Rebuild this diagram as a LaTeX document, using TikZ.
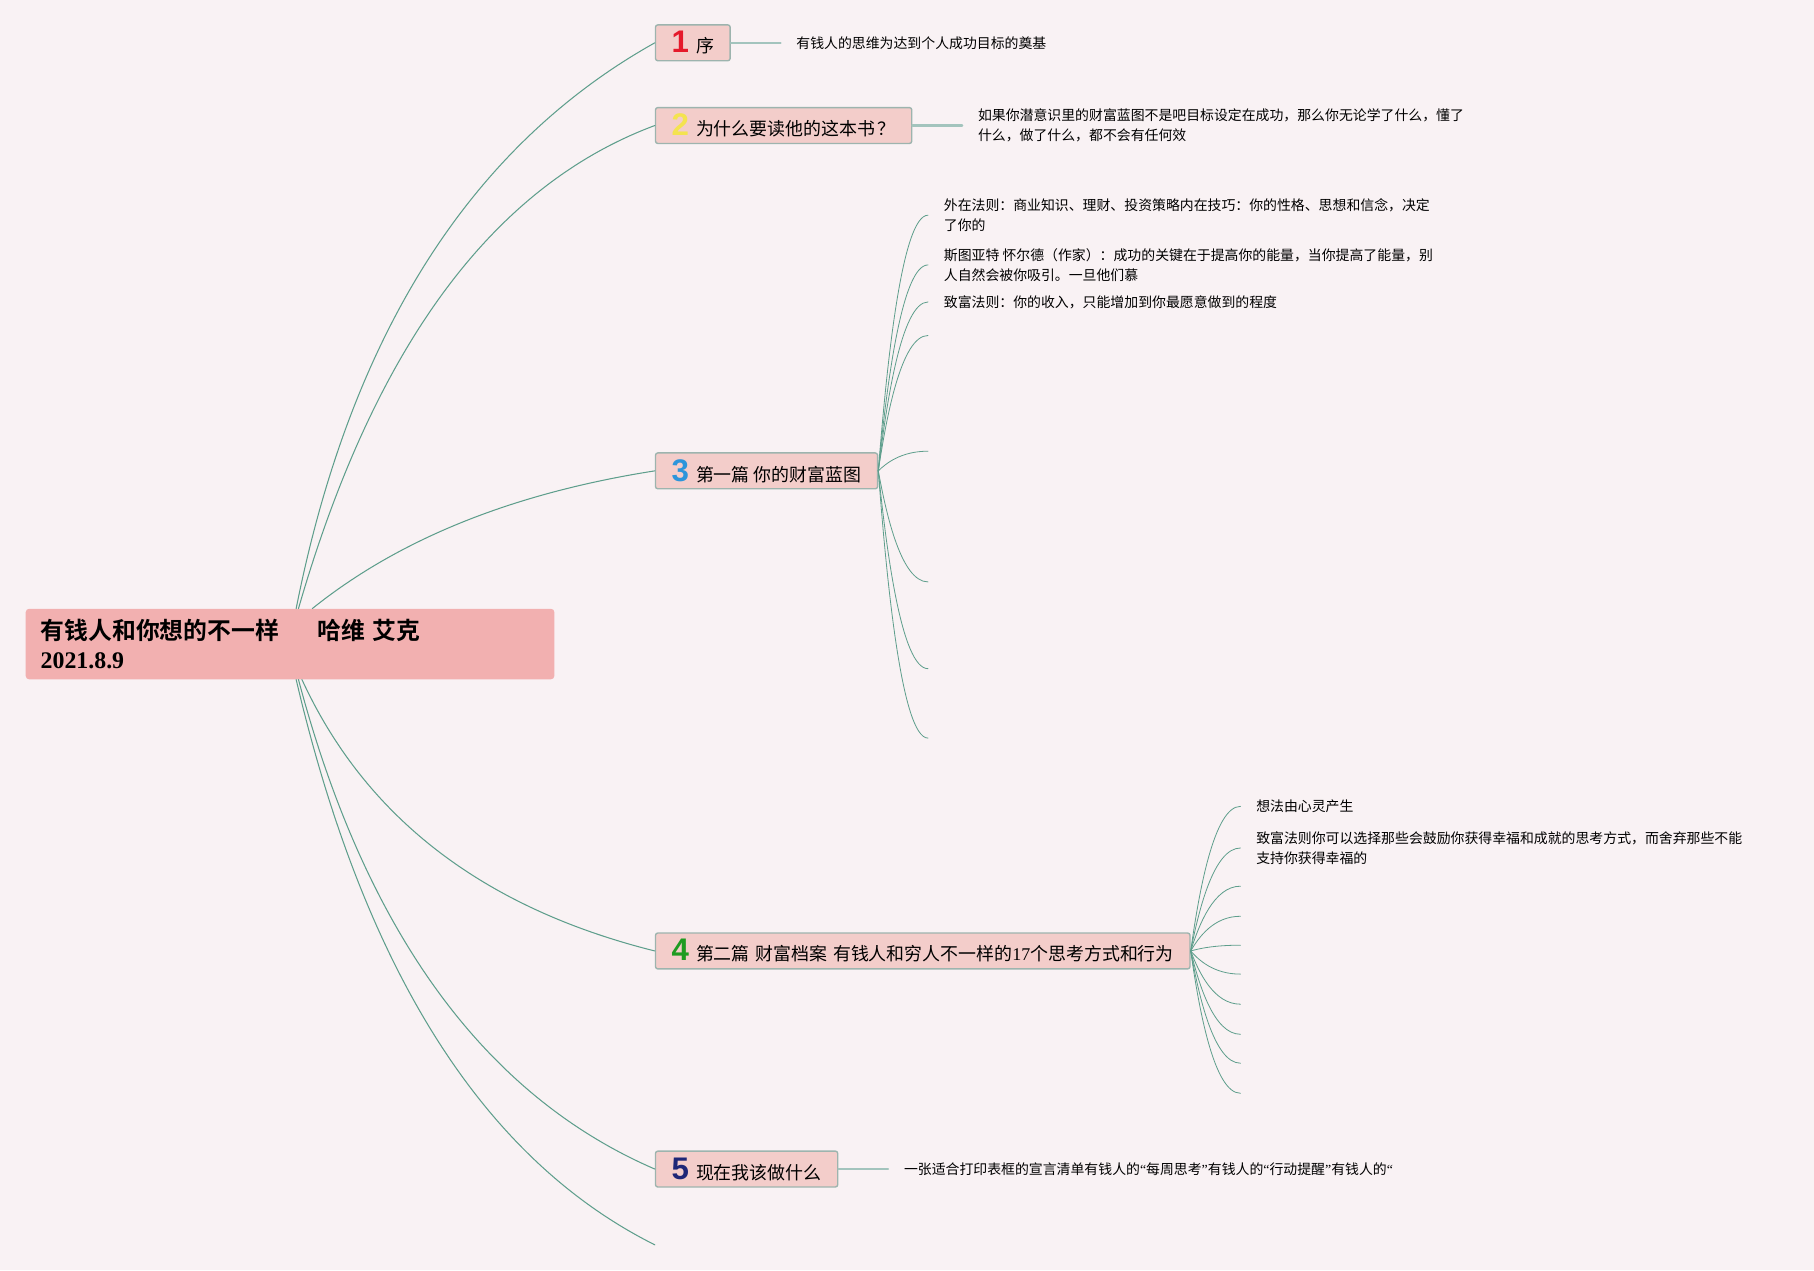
\documentclass[tikz,border=0pt]{standalone}
\usepackage{fontspec}
\setmainfont{Liberation Serif}
\newfontfamily\cjk[BoldFont={Noto Sans CJK SC Bold}]{Noto Sans CJK SC}
\newfontfamily\numfont{Liberation Sans}
\usepackage{xcolor}
\usepackage{tikz}
\usetikzlibrary{calc,positioning}

\definecolor{bgpink}{HTML}{F9F2F4}
\definecolor{rootfill}{HTML}{F2B0B0}
\definecolor{boxfill}{HTML}{F3CDCA}
\definecolor{boxline}{HTML}{9DB4AE}
\definecolor{branchcol}{HTML}{5E9E8C}
\definecolor{stemcol}{HTML}{A3C4BD}
\definecolor{numred}{HTML}{E5192B}
\definecolor{numyellow}{HTML}{F4E34F}
\definecolor{numblue}{HTML}{2C95DB}
\definecolor{numgreen}{HTML}{1E9B21}
\definecolor{numnavy}{HTML}{1E2677}

\newcommand{\badge}[2]{{\numfont\bfseries\fontsize{27}{27}\selectfont\color{#1}#2}\hspace{6pt}}
\newcommand{\qL}{{\rmfamily “}}
\newcommand{\qR}{{\rmfamily ”}}

\tikzset{
  root/.style={fill=rootfill, rounded corners=3pt, text width=431pt, align=left,
    inner xsep=13pt, minimum height=61pt, font=\cjk\bfseries\fontsize{20.6}{25}\selectfont},
  topic/.style={draw=boxline, fill=boxfill, line width=1.2pt, rounded corners=2pt,
    inner xsep=14pt, inner ysep=0pt, minimum height=31pt, anchor=west,
    font=\cjk\fontsize{15.5}{18}\selectfont},
  leaf/.style={anchor=west, inner xsep=13.5pt, inner ysep=0pt, align=left,
    font=\cjk\fontsize{12}{17}\selectfont},
  branch/.style={draw=branchcol, line width=0.9pt},
  twig/.style={draw=branchcol, line width=0.7pt},
  stem/.style={draw=stemcol, line width=1.8pt}
}

\begin{document}
\begin{tikzpicture}[x=1pt,y=-1pt,line cap=round,line join=round]
\fill[bgpink] (0,0) rectangle (1568,1097.8);
\useasboundingbox (0,0) rectangle (1568,1097.8);
% central topic
\node[root,anchor=north west] (root) at (22,526) {有钱人和你想的不一样\hspace{33pt}哈维 艾克\\{\rmfamily 2021.8.9}};

% main topics
\node[topic] (t1) at (566,37) {\badge{numred}{1}序};
\node[topic] (t2) at (566,108.5) {\badge{numyellow}{2}为什么要读他的这本书\hspace{2pt}？\hspace{2pt}};
\node[topic] (t3) at (566,407) {\badge{numblue}{3}第一篇 你的财富蓝图};
\node[topic] (t4) at (566,822) {\badge{numgreen}{4}第二篇\hspace{5pt}财富档案\hspace{5pt}有钱人和穷人不一样的{\rmfamily 17}个思考方式和行为};
\node[topic] (t5) at (566,1010.5) {\badge{numnavy}{5}现在我该做什么};
\coordinate (t6) at (566,1076);

\draw[branch] ($(root.north west)+(234,0)$) .. controls (303,289) and (407,126) .. (t1.west);
\draw[branch] ($(root.north west)+(236,0)$) .. controls (323,301) and (425,161) .. (t2.west);
\draw[branch] ($(root.north west)+(248,0)$) .. controls (346,465) and (445,426) .. (t3.west);
\draw[branch] ($(root.south west)+(239,0)$) .. controls (316,707) and (418,785) .. (t4.west);
\draw[branch] ($(root.south west)+(236,0)$) .. controls (316,806) and (419,947) .. (t5.west);
\draw[branch] ($(root.south west)+(234,0)$) .. controls (315,839) and (418,1002) .. (t6);

% single leaves
\node[leaf, right=43pt of t1] (l1) {有钱人的思维为达到个人成功目标的奠基};
\node[leaf, right=43pt of t2] (l2) {如果你潜意识里的财富蓝图不是吧目标设定在成功，那么你无论学了什么，懂了\\什么，做了什么，都不会有任何效};
\node[leaf, right=43pt of t5] (l5) {一张适合打印表框的宣言清单有钱人的\qL 每周思考\qR 有钱人的\qL 行动提醒\qR 有钱人的\qL};
\draw[stem] (t1.east) -- (l1.west);
\draw[stem] (t2.east) -- (l2.west);
\draw[stem] (t5.east) -- (l5.west);

% fan of part one
\foreach \dy [count=\i] in {-221,-178,-146,-117,-17,96,171,231}{
  \coordinate (c3-\i) at ($(t3.east)+(43,\dy)$);
  \draw[twig] (t3.east) .. controls +(7,{0.4*\dy}) and +(-23,0) .. (c3-\i);
}
\node[leaf] (l31) at (c3-1) {外在法则：商业知识、理财、投资策略内在技巧：你的性格、思想和信念，决定\\了你的};
\node[leaf] (l32) at (c3-2) {斯图亚特 怀尔德（作家）：成功的关键在于提高你的能量，当你提高了能量，别\\人自然会被你吸引。一旦他们慕};
\node[leaf] (l33) at (c3-3) {致富法则：你的收入，只能增加到你最愿意做到的程度};

% fan of part two
\foreach \dy [count=\i] in {-125,-89,-56,-30,-5,20,46,72,97,123}{
  \coordinate (c4-\i) at ($(t4.east)+(43,\dy)$);
  \draw[twig] (t4.east) .. controls +(7,{0.4*\dy}) and +(-23,0) .. (c4-\i);
}
\node[leaf] (l41) at (c4-1) {想法由心灵产生};
\node[leaf] (l42) at (c4-2) {致富法则你可以选择那些会鼓励你获得幸福和成就的思考方式，而舍弃那些不能\\支持你获得幸福的};
\end{tikzpicture}
\end{document}
